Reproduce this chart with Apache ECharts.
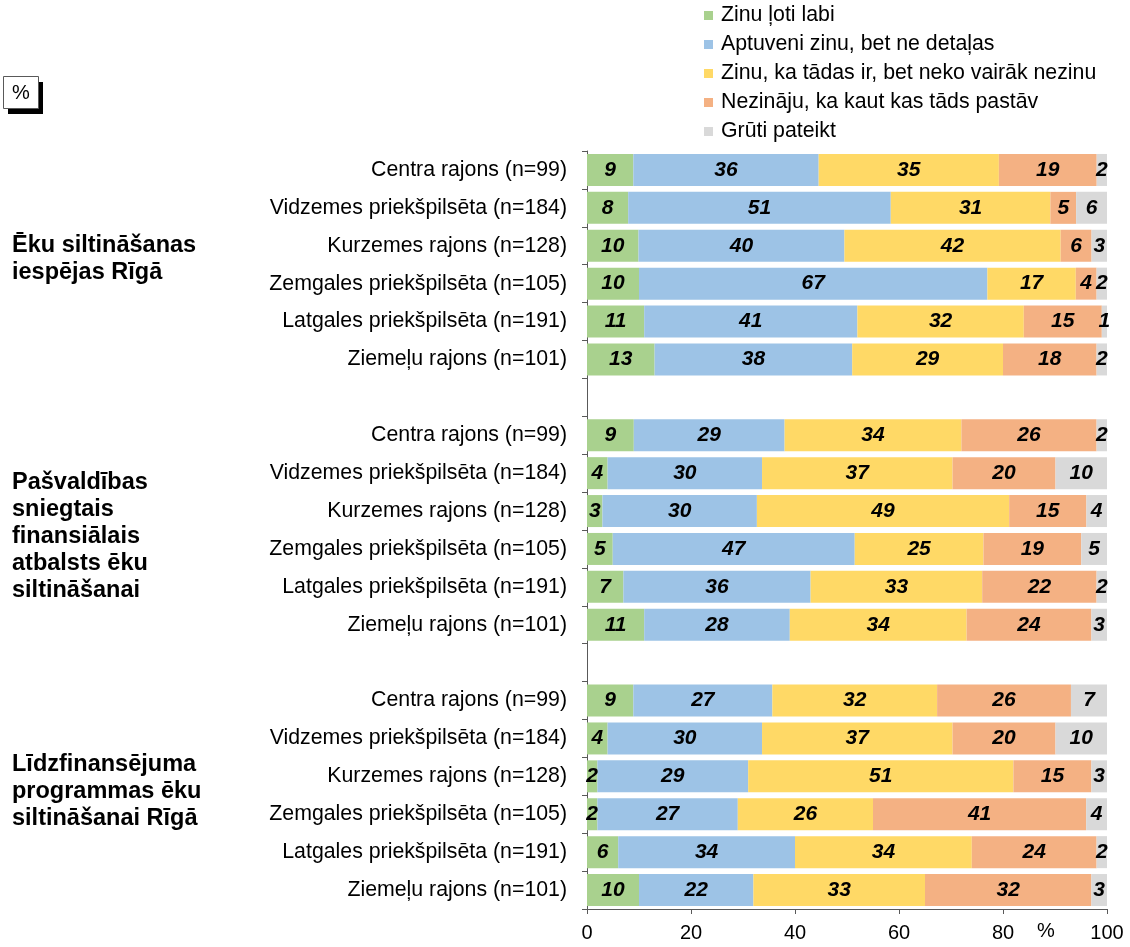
<!DOCTYPE html>
<html>
<head>
<meta charset="utf-8">
<script src="https://cdn.jsdelivr.net/npm/echarts@6/dist/echarts.min.js"></script>
<style>
  html, body { margin: 0; padding: 0; background: #fff; }
  #container { width: 1130px; height: 947px; }
</style>
</head>
<body>
<div id="container"></div>
<script>
var FONT = '"Liberation Sans", Arial, sans-serif';

var districts = [
    'Centra rajons (n=99)',
    'Vidzemes priekšpilsēta (n=184)',
    'Kurzemes rajons (n=128)',
    'Zemgales priekšpilsēta (n=105)',
    'Latgales priekšpilsēta (n=191)',
    'Ziemeļu rajons (n=101)'
];

var topics = [
    'Ēku siltināšanas\niespējas Rīgā',
    'Pašvaldības\nsniegtais\nfinansiālais\natbalsts ēku\nsiltināšanai',
    'Līdzfinansējuma\nprogrammas ēku\nsiltināšanai Rīgā'
];

var answers = [
    'Zinu ļoti labi',
    'Aptuveni zinu, bet ne detaļas',
    'Zinu, ka tādas ir, bet neko vairāk nezinu',
    'Nezināju, ka kaut kas tāds pastāv',
    'Grūti pateikt'
];

// 18 rows: 3 topics x 6 districts, top to bottom
var knowWell   = [9, 8, 10, 10, 11, 13,   9, 4, 3, 5, 7, 11,    9, 4, 2, 2, 6, 10];
var knowRough  = [36, 51, 40, 67, 41, 38, 29, 30, 30, 47, 36, 28, 27, 30, 29, 27, 34, 22];
var heardOnly  = [35, 31, 42, 17, 32, 29, 34, 37, 49, 25, 33, 34, 32, 37, 51, 26, 34, 33];
var didntKnow  = [19, 5, 6, 4, 15, 18,    26, 20, 15, 19, 22, 24, 26, 20, 15, 41, 24, 32];
var hardToSay  = [2, 6, 3, 2, 1, 2,       2, 10, 4, 5, 2, 3,    7, 10, 3, 4, 2, 3];

var colors = ['#A9D18E', '#9DC3E6', '#FFD966', '#F4B183', '#D9D9D9'];

var dom = document.getElementById('container');
var myChart = echarts.init(dom, null, {renderer: 'canvas'});

var valueSets = [knowWell, knowRough, heardOnly, didntKnow, hardToSay];

// category list with empty rows between topic groups
var categories = [];
topics.forEach(function (t, g) {
    districts.forEach(function (d) { categories.push(d); });
    if (g < topics.length - 1) categories.push('');
});

// printed shares are rounded, so scale each row to 100
var rowSums = knowWell.map(function (v, k) {
    return valueSets.reduce(function (s, arr) { return s + arr[k]; }, 0);
});

var series = answers.map(function (name, a) {
    var data = [];
    topics.forEach(function (t, g) {
        for (var i = 0; i < districts.length; i++) {
            var k = g * districts.length + i;
            data.push({value: valueSets[a][k] / rowSums[k] * 100, raw: valueSets[a][k]});
        }
        if (g < topics.length - 1) data.push('-');
    });
    return {
        name: name,
        type: 'bar',
        stack: 'total',
        barWidth: 32,
        itemStyle: {color: colors[a]},
        label: {
            show: true,
            position: 'inside',
            color: '#000',
            fontFamily: FONT,
            fontSize: 21,
            fontWeight: 'bold',
            fontStyle: 'italic',
            formatter: function (p) { return p.data.raw; }
        },
        emphasis: {disabled: true},
        data: data
    };
});

var groupTops = [232, 469, 751];

var graphics = [
    {type: 'rect', left: 8, top: 82, z: 100, shape: {width: 35, height: 32}, style: {fill: '#000'}},
    {type: 'rect', left: 3, top: 76, z: 101, shape: {width: 35, height: 32}, style: {fill: '#fff', stroke: '#595959', lineWidth: 1}},
    {type: 'text', x: 21, y: 93, z: 102, style: {text: '%', font: '20px ' + FONT, fill: '#000', align: 'center', verticalAlign: 'middle'}},
    {type: 'text', x: 1046, y: 931, style: {text: '%', font: '20px ' + FONT, fill: '#000', align: 'center', verticalAlign: 'middle'}}
];
topics.forEach(function (t, g) {
    graphics.push({
        type: 'text', left: 12, top: groupTops[g],
        style: {text: t, font: 'bold 23.5px ' + FONT, fill: '#000', lineHeight: 27}
    });
});

var option = {
    animation: false,
    textStyle: {fontFamily: FONT},
    color: colors,
    legend: {
        orient: 'vertical',
        left: 704,
        top: 5,
        padding: 0,
        itemWidth: 9,
        itemHeight: 9,
        itemGap: 8,
        icon: 'rect',
        selectedMode: false,
        textStyle: {fontSize: 21.3, color: '#000', fontFamily: FONT, padding: [0, 0, 0, 3]},
        data: answers
    },
    grid: {left: 587, right: 23, top: 151, bottom: 38, containLabel: false},
    xAxis: {
        type: 'value',
        min: 0,
        max: 100,
        interval: 20,
        axisLine: {show: true, lineStyle: {color: '#595959', width: 1}},
        axisTick: {show: true, length: 5, lineStyle: {color: '#595959'}},
        splitLine: {show: false},
        axisLabel: {fontSize: 20, color: '#000', margin: 14, fontFamily: FONT}
    },
    yAxis: {
        type: 'category',
        inverse: true,
        data: categories,
        axisLine: {show: true, lineStyle: {color: '#595959', width: 1}},
        axisTick: {show: true, length: 5, alignWithLabel: false, lineStyle: {color: '#595959'}},
        axisLabel: {fontSize: 21.3, color: '#000', margin: 20, fontFamily: FONT, interval: 0}
    },
    graphic: graphics,
    series: series
};

myChart.setOption(option, true);
</script>
</body>
</html>
